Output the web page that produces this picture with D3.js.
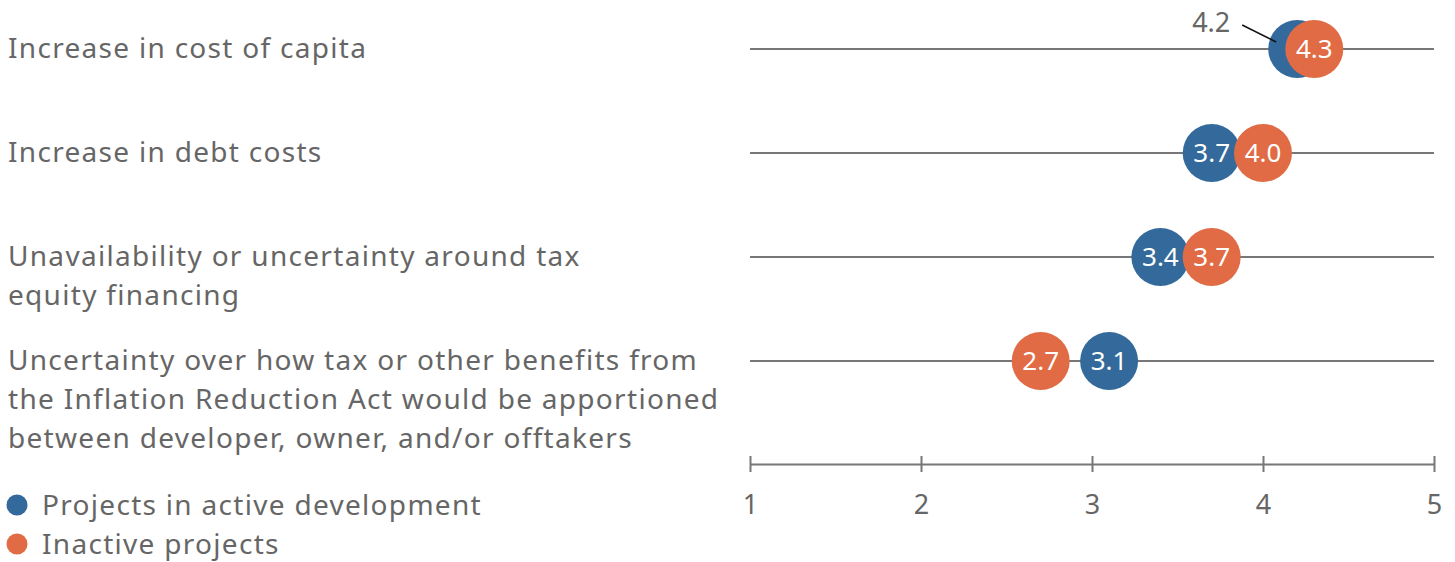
<!DOCTYPE html>
<html>
<head>
<meta charset="utf-8">
<script src="https://cdn.jsdelivr.net/npm/d3@7"></script>
<style>
  body { margin: 0; background: #fff; }
  text { font-family: "Noto Sans", sans-serif; }
  .wide { letter-spacing: 1.3px; }
</style>
</head>
<body>
<div id="chart"></div>
<script>
// categories (each as wrapped lines)
var categories = [
    ["Increase in cost of capita"],
    ["Increase in debt costs"],
    ["Unavailability or uncertainty around tax", "equity financing"],
    ["Uncertainty over how tax or other benefits from", "the Inflation Reduction Act would be apportioned", "between developer, owner, and/or offtakers"]
];
var activeValues = [4.2, 3.7, 3.4, 3.1];
var inactiveValues = [4.3, 4.0, 3.7, 2.7];
var tickValues = [1, 2, 3, 4, 5];
var seriesNames = ["Projects in active development", "Inactive projects"];
var colors = ["#346A9B", "#E06B45"];

var width = 1455, height = 562;
var grey = "#666666";

var svg = d3.select("#chart")
    .append("svg")
    .attr("width", width)
    .attr("height", height);

var x_scale = d3.scaleLinear()
    .domain([1, 5])
    .range([750, 1434]);

var y_scale = d3.scalePoint()
    .domain(d3.range(categories.length))
    .range([49, 361]);

// row lines
svg.selectAll(".rowline")
    .data(categories)
    .join("line")
    .attr("x1", x_scale(1))
    .attr("x2", x_scale(5))
    .attr("y1", function (d, i) { return y_scale(i) })
    .attr("y2", function (d, i) { return y_scale(i) })
    .attr("stroke", "#777")
    .attr("stroke-width", 2);

// category labels
svg.selectAll(".label")
    .data(categories)
    .join("text")
    .attr("class", "wide")
    .attr("x", 8)
    .attr("y", function (d, i) { return y_scale(i) + 9 })
    .attr("fill", grey)
    .style("font-size", "28px")
    .each(function (d) {
        var t = d3.select(this);
        d.forEach(function (line, k) {
            t.append("tspan")
                .attr("x", 8)
                .attr("dy", k == 0 ? 0 : 39)
                .text(line);
        });
    });

// axis
var axis = svg.append("g")
    .attr("transform", "translate(0,464)")
    .call(d3.axisBottom(x_scale).tickValues(tickValues).tickSize(0).tickPadding(31).tickFormat(d3.format("d")));
axis.select(".domain").attr("stroke", "#777").attr("stroke-width", 2);
axis.selectAll(".tick text")
    .attr("fill", grey)
    .style("font-size", "27px")
    .style("font-family", "'Noto Sans', sans-serif");
axis.selectAll(".tick")
    .append("line")
    .attr("y1", -8)
    .attr("y2", 8)
    .attr("stroke", "#777")
    .attr("stroke-width", 2);

// dots
var r = 29;
var series = [activeValues, inactiveValues];
series.forEach(function (vals, s) {
    var g = svg.append("g");
    g.selectAll("circle")
        .data(vals)
        .join("circle")
        .attr("cx", function (d) { return x_scale(d) })
        .attr("cy", function (d, i) { return y_scale(i) })
        .attr("r", r)
        .attr("fill", colors[s]);
    g.selectAll("text")
        .data(vals)
        .join("text")
        .attr("x", function (d) { return x_scale(d) })
        .attr("y", function (d, i) { return y_scale(i) + 9 })
        .attr("text-anchor", "middle")
        .attr("fill", "#fff")
        .style("font-size", "26px")
        .style("display", function (d, i) { return (s == 0 && i == 0) ? "none" : null })
        .text(function (d) { return d.toFixed(1) });
});

// callout for hidden 4.2
svg.append("text")
    .attr("x", x_scale(activeValues[0]) - 86)
    .attr("y", y_scale(0) - 17)
    .attr("text-anchor", "middle")
    .attr("fill", grey)
    .style("font-size", "27px")
    .text(activeValues[0].toFixed(1));
svg.append("line")
    .attr("x1", x_scale(activeValues[0]) - 55)
    .attr("y1", y_scale(0) - 24)
    .attr("x2", x_scale(activeValues[0]) - 21)
    .attr("y2", y_scale(0) - 7)
    .attr("stroke", "#111")
    .attr("stroke-width", 1.5);

// legend
var legend = svg.selectAll(".legend")
    .data(seriesNames)
    .join("g")
    .attr("transform", function (d, i) { return "translate(17," + (505 + i * 39) + ")" });
legend.append("circle")
    .attr("r", 10.5)
    .attr("fill", function (d, i) { return colors[i] });
legend.append("text")
    .attr("class", "wide")
    .attr("x", 25)
    .attr("y", 10)
    .attr("fill", grey)
    .style("font-size", "28px")
    .text(function (d) { return d });
</script>
</body>
</html>
